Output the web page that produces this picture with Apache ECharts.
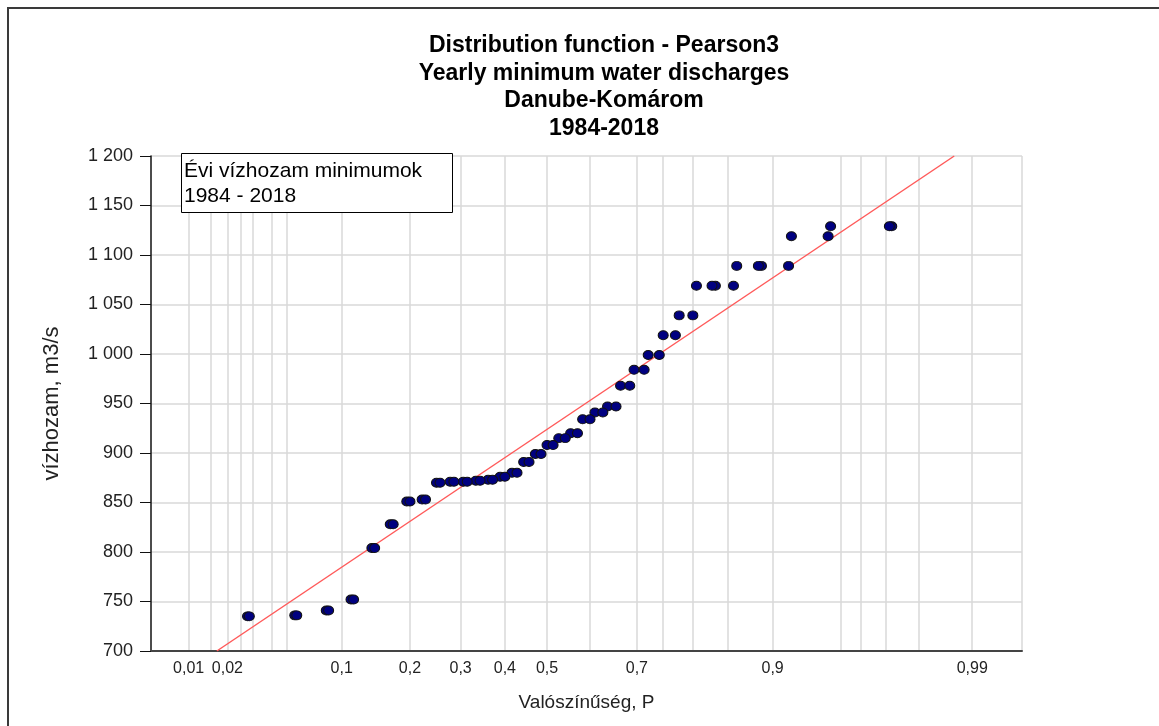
<!DOCTYPE html>
<html>
<head>
<meta charset="utf-8">
<title>Distribution function - Pearson3</title>
<script src="https://cdn.jsdelivr.net/npm/echarts@6/dist/echarts.min.js"></script>
<style>
  html, body { margin: 0; padding: 0; background: #fff; }
  #chart { width: 1159px; height: 726px; }
</style>
</head>
<body>
<div id="chart"></div>
<script>
// yearly minimum discharges, sorted ascending (m3/s)
const discharge = [735, 736, 741, 752, 804, 828, 851, 853, 870, 871, 871, 872, 873, 876, 880,
  891, 899, 908, 915, 920, 934, 941, 947, 968, 984, 999, 1019, 1039, 1069, 1069,
  1089, 1089, 1119, 1129, 1129]
// plotting positions, two sets
const probA = [0.0278, 0.0556, 0.0833, 0.1111, 0.1389, 0.1667, 0.1944, 0.2222, 0.25, 0.2778,
  0.3056, 0.3333, 0.3611, 0.3889, 0.4167, 0.4444, 0.4722, 0.5, 0.5278, 0.5556,
  0.5833, 0.6111, 0.6389, 0.6667, 0.6944, 0.7222, 0.75, 0.7778, 0.8056, 0.8333,
  0.8611, 0.8889, 0.9167, 0.9444, 0.9722]
const probB = [0.0286, 0.0571, 0.0857, 0.1143, 0.1429, 0.1714, 0.2, 0.2286, 0.2571, 0.2857,
  0.3143, 0.3429, 0.3714, 0.4, 0.4286, 0.4571, 0.4857, 0.5143, 0.5429, 0.5714,
  0.6, 0.6286, 0.6571, 0.6857, 0.7143, 0.7429, 0.7714, 0.8, 0.8286, 0.8571,
  0.8857, 0.9143, 0.9429, 0.9714]
// fitted Pearson3 line (end points)
const fitProb = [0.0167, 0.9873]
const fitQ = [700, 1200]
// x axis: labelled probabilities and grid lines
const xLabelProb = [0.01, 0.02, 0.1, 0.2, 0.3, 0.4, 0.5, 0.7, 0.9, 0.99]
const xLabelText = ['0,01', '0,02', '0,1', '0,2', '0,3', '0,4', '0,5', '0,7', '0,9', '0,99']
const xGridProb = [0.01, 0.015, 0.02, 0.025, 0.03, 0.04, 0.05, 0.1, 0.2, 0.3, 0.4, 0.5,
  0.6, 0.7, 0.75, 0.8, 0.85, 0.9, 0.95, 0.96, 0.97, 0.98, 0.99, 0.995]
const xRangeProb = [0.0047, 0.995]

const CS = 0.22 // skew of the probability paper
const FONT = 'Liberation Sans, Arial, sans-serif'

function normInv(p) {
  const a = [-3.969683028665376e+01, 2.209460984245205e+02, -2.759285104469687e+02,
    1.383577518672690e+02, -3.066479806614716e+01, 2.506628277459239e+00]
  const b = [-5.447609879822406e+01, 1.615858368580409e+02, -1.556989798598866e+02,
    6.680131188771972e+01, -1.328068155288572e+01]
  const c = [-7.784894002430293e-03, -3.223964580411365e-01, -2.400758277161838e+00,
    -2.549732539343734e+00, 4.374664141464968e+00, 2.938163982698783e+00]
  const d = [7.784695709041462e-03, 3.224671290700398e-01, 2.445134137142996e+00,
    3.754408661907416e+00]
  let q, r
  if (p < 0.02425) {
    q = Math.sqrt(-2 * Math.log(p))
    return (((((c[0] * q + c[1]) * q + c[2]) * q + c[3]) * q + c[4]) * q + c[5]) /
      ((((d[0] * q + d[1]) * q + d[2]) * q + d[3]) * q + 1)
  }
  if (p > 1 - 0.02425) {
    q = Math.sqrt(-2 * Math.log(1 - p))
    return -(((((c[0] * q + c[1]) * q + c[2]) * q + c[3]) * q + c[4]) * q + c[5]) /
      ((((d[0] * q + d[1]) * q + d[2]) * q + d[3]) * q + 1)
  }
  q = p - 0.5
  r = q * q
  return (((((a[0] * r + a[1]) * r + a[2]) * r + a[3]) * r + a[4]) * r + a[5]) * q /
    (((((b[0] * r + b[1]) * r + b[2]) * r + b[3]) * r + b[4]) * r + 1)
}

// probability -> Pearson3 frequency factor (Wilson-Hilferty)
function pToK(p) {
  const z = normInv(p)
  const k = CS / 6
  return (2 / CS) * (Math.pow(1 + k * z - k * k, 3) - 1)
}

const labelK = xLabelProb.map(pToK)

const chart = echarts.init(document.getElementById('chart'))
chart.setOption({
  backgroundColor: '#fff',
  animation: false,
  title: {
    text: 'Distribution function - Pearson3\nYearly minimum water discharges\nDanube-Komárom\n1984-2018',
    left: 599,
    top: 27,
    textAlign: 'center',
    textStyle: {fontFamily: FONT, fontSize: 23, fontWeight: 'bold', lineHeight: 27.5, color: '#000'}
  },
  grid: {left: 151, right: 137, top: 156, bottom: 75},
  xAxis: {
    type: 'value',
    min: pToK(xRangeProb[0]),
    max: pToK(xRangeProb[1]),
    name: 'Valószínűség, P',
    nameLocation: 'middle',
    nameGap: 42,
    nameTextStyle: {fontFamily: FONT, fontSize: 19, color: '#222'},
    axisLine: {onZero: false, lineStyle: {color: '#444', width: 2}},
    axisTick: {show: false, customValues: xGridProb.map(pToK)},
    axisLabel: {
      customValues: labelK,
      margin: 10,
      fontFamily: FONT,
      fontSize: 16,
      color: '#222',
      formatter: val => {
        const i = labelK.findIndex(k => Math.abs(k - val) < 1e-6)
        return i >= 0 ? xLabelText[i] : ''
      }
    },
    splitLine: {show: true, lineStyle: {color: '#d9d9d9', width: 1.5}}
  },
  yAxis: {
    type: 'value',
    min: 700,
    max: 1200,
    interval: 50,
    name: 'vízhozam, m3/s',
    nameLocation: 'middle',
    nameRotate: 90,
    nameGap: 88,
    nameTextStyle: {fontFamily: FONT, fontSize: 22, color: '#222'},
    axisLine: {show: true, onZero: false, lineStyle: {color: '#111', width: 1.5}},
    axisTick: {show: true, length: 11, lineStyle: {color: '#111'}},
    axisLabel: {
      margin: 18,
      fontFamily: FONT,
      fontSize: 18,
      color: '#222',
      formatter: v => String(v).replace(/\B(?=(\d{3})+(?!\d))/g, ' ')
    },
    splitLine: {show: true, lineStyle: {color: '#d9d9d9', width: 1.5}}
  },
  series: [
    {
      name: 'Pearson3',
      type: 'line',
      data: fitProb.map((p, i) => [pToK(p), fitQ[i]]),
      symbol: 'none',
      lineStyle: {color: '#ff5a5a', width: 1.5},
      z: 2
    },
    {
      name: 'P = m/(n+1)',
      type: 'scatter',
      data: probA.map((p, i) => [pToK(p), discharge[i]]),
      symbol: 'circle',
      symbolSize: [10, 9],
      itemStyle: {color: '#000080', borderColor: '#111', borderWidth: 1, opacity: 1},
      z: 3
    },
    {
      name: 'P = m/n',
      type: 'scatter',
      data: probB.map((p, i) => [pToK(p), discharge[i]]),
      symbol: 'circle',
      symbolSize: [10, 9],
      itemStyle: {color: '#000080', borderColor: '#111', borderWidth: 1, opacity: 1},
      z: 3
    }
  ],
  graphic: [
    {
      type: 'polyline',
      shape: {points: [[8, 726], [8, 8], [1159, 8]]},
      style: {stroke: '#3a3a3a', lineWidth: 2, fill: null}
    },
    {
      type: 'rect',
      shape: {x: 181.5, y: 153.5, width: 271, height: 59},
      style: {fill: '#fff', stroke: '#000', lineWidth: 1},
      z: 10
    },
    {
      type: 'text',
      left: 184,
      top: 159,
      style: {
        text: 'Évi vízhozam minimumok\n1984 - 2018',
        font: '21px Liberation Sans, Arial, sans-serif',
        lineHeight: 25,
        fill: '#000'
      },
      z: 11
    }
  ]
})
</script>
</body>
</html>
